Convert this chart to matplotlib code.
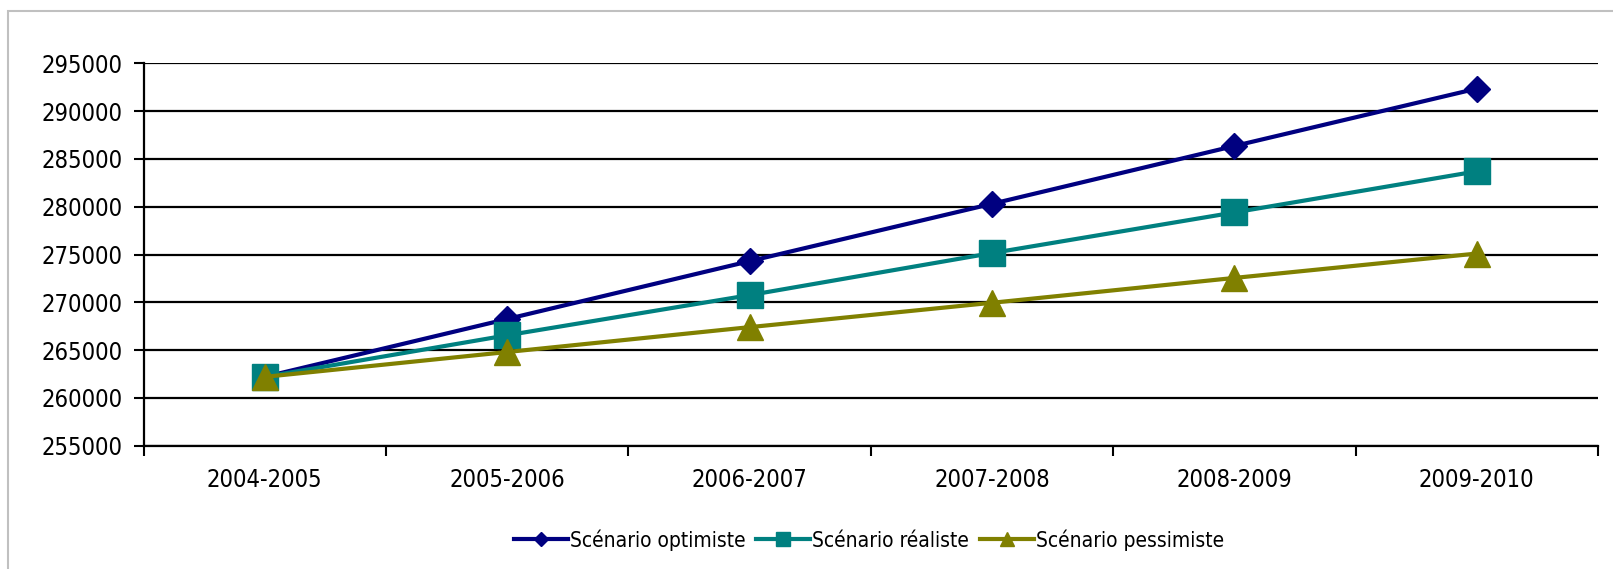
import numpy as np
import matplotlib
matplotlib.use("Agg")
import matplotlib.pyplot as plt
from matplotlib.patches import Rectangle

# Données
annees = ["2004-2005", "2005-2006", "2006-2007", "2007-2008", "2008-2009", "2009-2010"]
optimiste = [262200, 268250, 274300, 280300, 286350, 292350]
realiste = [262200, 266550, 270750, 275150, 279400, 283700]
pessimiste = [262200, 264800, 267400, 269950, 272550, 275100]
yticks = list(range(255000, 295001, 5000))

plt.rcParams["font.family"] = "DejaVu Sans"
plt.rcParams["font.stretch"] = "condensed"

fig = plt.figure(figsize=(16.13, 5.69), dpi=100)
ax = fig.add_axes([143.5 / 1613, 1 - 445.7 / 569, (1598 - 143.5) / 1613, (445.7 - 63.3) / 569])

# Cadre gris autour du graphique
fig.patches.append(Rectangle((8 / 1613, -0.1), 1.2, 0.1 + 1 - 11 / 569, transform=fig.transFigure,
                             fill=False, edgecolor="#c0c0c0", linewidth=1.5, zorder=0))

x = np.arange(len(annees))
ax.plot(x, optimiste, color="#000080", lw=3, marker="D", ms=13.5, label="Scénario optimiste", zorder=3)
ax.plot(x, realiste, color="#008080", lw=3, marker="s", ms=19, label="Scénario réaliste", zorder=4)
ax.plot(x, pessimiste, color="#808000", lw=3, marker="^", ms=19, label="Scénario pessimiste", zorder=5)

ax.set_xlim(-0.5, len(annees) - 0.5)
ax.set_ylim(yticks[0], yticks[-1])
ax.set_yticks(yticks)
ax.set_yticklabels([str(v) for v in yticks], fontsize=17)
ax.set_xticks(x)
ax.set_xticklabels(annees, fontsize=17)
ax.set_xticks(np.arange(-0.5, len(annees), 1.0), minor=True)
ax.tick_params(axis="x", which="major", length=0, pad=16)
ax.tick_params(axis="x", which="minor", length=7, width=1.5, direction="out")
ax.tick_params(axis="y", length=7, width=1.5, pad=8)

ax.grid(axis="y", color="black", linewidth=1.6)
ax.set_axisbelow(True)
for side in ["top", "right"]:
    ax.spines[side].set_visible(False)
for side in ["left", "bottom"]:
    ax.spines[side].set_linewidth(1.6)
    ax.spines[side].set_zorder(2)

fig.legend(loc="center", bbox_to_anchor=(869 / 1613, 1 - 540 / 569), ncol=3, frameon=False,
           fontsize=15, markerscale=0.55, handlelength=2.6, handletextpad=0.1, columnspacing=0.5)

fig.savefig("out.png", dpi=100)
